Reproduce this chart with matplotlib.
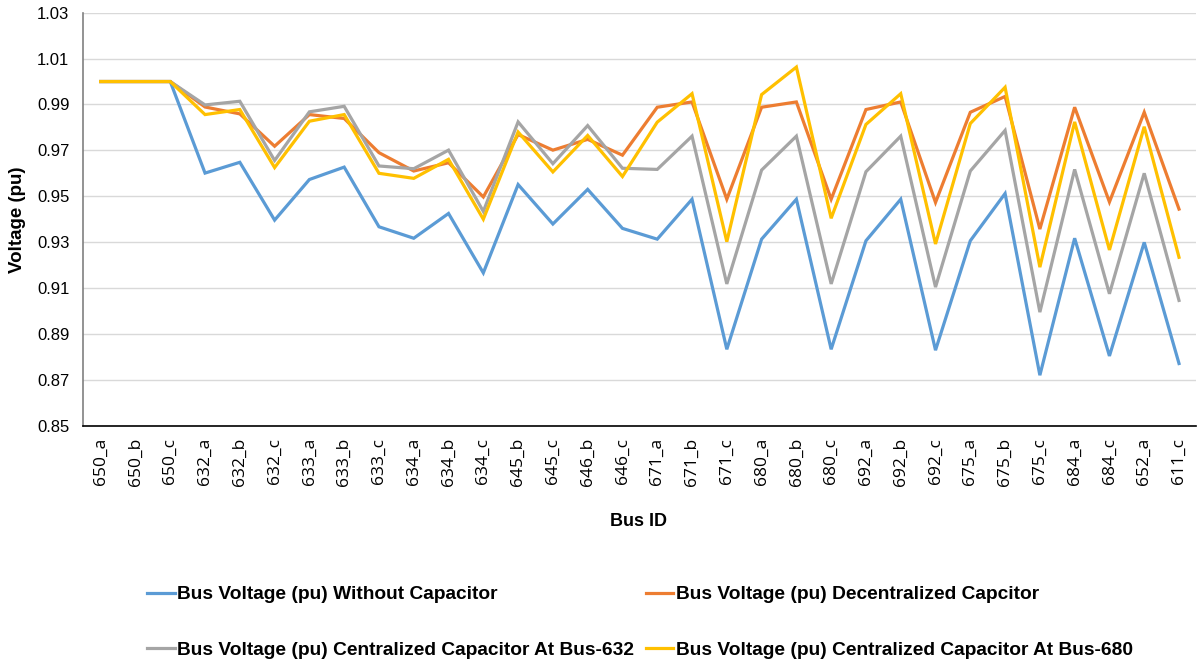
import matplotlib
matplotlib.use("Agg")
import matplotlib.pyplot as plt
import numpy as np

buses = ["650_a", "650_b", "650_c", "632_a", "632_b", "632_c", "633_a", "633_b", "633_c",
         "634_a", "634_b", "634_c", "645_b", "645_c", "646_b", "646_c", "671_a", "671_b",
         "671_c", "680_a", "680_b", "680_c", "692_a", "692_b", "692_c", "675_a", "675_b",
         "675_c", "684_a", "684_c", "652_a", "611_c"]

without_cap = [1.000, 1.000, 1.000, 0.9601, 0.9648, 0.9396, 0.9573, 0.9627, 0.9367,
               0.9317, 0.9425, 0.9166, 0.9551, 0.9379, 0.9530, 0.9360, 0.9313, 0.9487,
               0.8833, 0.9313, 0.9487, 0.8833, 0.9306, 0.9487, 0.8829, 0.9306, 0.9512,
               0.8720, 0.9317, 0.8804, 0.9299, 0.8771]

decentralized = [1.000, 1.000, 1.000, 0.9889, 0.9859, 0.9718, 0.9856, 0.9839, 0.9690,
                 0.9610, 0.9646, 0.9497, 0.9769, 0.9701, 0.9748, 0.9679, 0.9888, 0.9911,
                 0.9487, 0.9888, 0.9911, 0.9487, 0.9878, 0.9911, 0.9473, 0.9866, 0.9935,
                 0.9357, 0.9888, 0.9475, 0.9866, 0.9444]

central_632 = [1.000, 1.000, 1.000, 0.9898, 0.9914, 0.9656, 0.9868, 0.9892, 0.9632,
               0.9620, 0.9701, 0.9434, 0.9824, 0.9642, 0.9808, 0.9622, 0.9617, 0.9762,
               0.9118, 0.9614, 0.9762, 0.9118, 0.9607, 0.9762, 0.9104, 0.9610, 0.9787,
               0.8995, 0.9617, 0.9075, 0.9600, 0.9046]

central_680 = [1.000, 1.000, 1.000, 0.9856, 0.9878, 0.9625, 0.9827, 0.9856, 0.9600,
               0.9578, 0.9661, 0.9400, 0.9780, 0.9606, 0.9765, 0.9586, 0.9823, 0.9947,
               0.9302, 0.9943, 1.0063, 0.9404, 0.9813, 0.9947, 0.9292, 0.9817, 0.9975,
               0.9191, 0.9824, 0.9266, 0.9803, 0.9234]

labels = ["Bus Voltage (pu) Without Capacitor",
          "Bus Voltage (pu) Decentralized Capcitor",
          "Bus Voltage (pu) Centralized Capacitor At Bus-632",
          "Bus Voltage (pu) Centralized Capacitor At Bus-680"]
colors = ["#5B9BD5", "#ED7D31", "#A5A5A5", "#FFC000"]

narrow = ["Liberation Sans Narrow", "Liberation Sans", "DejaVu Sans"]

fig = plt.figure(figsize=(11.97, 6.66), dpi=100)
ax = fig.add_axes([83.3 / 1197, 1 - 425.7 / 666, (1196.4 - 83.3) / 1197, (425.7 - 12.7) / 666])

x = np.arange(len(buses))
lines = []
for data, c, lab in zip([without_cap, decentralized, central_632, central_680], colors, labels):
    ln, = ax.plot(x, data, color=c, lw=2.3, label=lab, solid_joinstyle="miter")
    lines.append(ln)

ax.set_xlim(-0.5, len(buses) - 0.5)
ax.set_ylim(0.85, 1.03)
yt = np.round(np.arange(0.85, 1.031, 0.02), 2)
ax.set_yticks(yt)
ax.set_yticklabels([f"{v:.2f}" for v in yt], fontfamily=narrow, fontsize=12)
ax.set_xticks(x)
ax.set_xticklabels(buses, rotation=90, fontfamily="Open Sans", fontsize=12.5)
ax.tick_params(axis="both", length=0)
ax.tick_params(axis="y", pad=10)
ax.tick_params(axis="x", pad=9)
ax.yaxis.grid(True, color="#D9D9D9", lw=1)
ax.set_axisbelow(True)
for s in ["top", "right"]:
    ax.spines[s].set_visible(False)
ax.spines["left"].set_color("#808080")
ax.spines["left"].set_linewidth(1.2)
ax.spines["bottom"].set_color("#000000")
ax.spines["bottom"].set_linewidth(1.2)

fig.text(18 / 1197, 1 - 220 / 666, "Voltage (pu)", rotation=90, ha="center", va="center",
         fontfamily=narrow, fontweight="bold", fontsize=13.5)
fig.text(639 / 1197, 1 - 522 / 666, "Bus ID", ha="center", va="center",
         fontfamily=narrow, fontweight="bold", fontsize=13)

order = [0, 2, 1, 3]
leg = fig.legend([lines[i] for i in order], [labels[i] for i in order],
                 loc="upper left", bbox_to_anchor=(147 / 1197, 1 - 586 / 666),
                 ncol=2, frameon=False, borderpad=0, borderaxespad=0,
                 handlelength=1.45, handletextpad=0.12, columnspacing=0.6,
                 labelspacing=2.0,
                 prop={"family": narrow, "weight": "bold", "size": 13.8})

fig.savefig("out.png", dpi=100)
